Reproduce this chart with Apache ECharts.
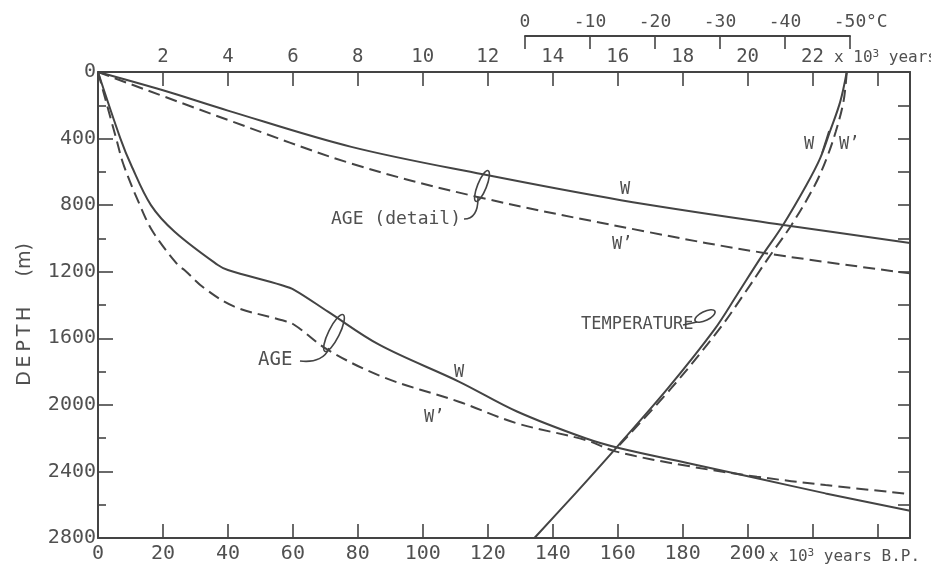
<!DOCTYPE html>
<html><head><meta charset="utf-8">
<script src="https://cdn.jsdelivr.net/npm/echarts@6/dist/echarts.min.js"></script>
<style>html,body{margin:0;padding:0;background:#fff}#c{width:931px;height:573px}</style>
</head><body><div id="c"></div>
<script>
// ---------- data ----------
// Age (detail) curves, top axis in 10^3 years
const detailAgeW  = [0, 2, 4, 7.8, 11.85, 16.1, 21.1, 25];
const detailDepW  = [0, 110, 232, 450, 615, 770, 919, 1027];
const detailAgeW2 = [0, 4, 7.8, 11.65, 16.9, 20.6, 25];
const detailDepW2 = [0, 288, 550, 749, 960, 1090, 1210];
// Age curves, bottom axis in 10^3 years B.P.
const ageW   = [0, 6.9, 10.2, 16.3, 23.6, 36.9, 40, 56.4, 60.5, 70.8, 86.7, 111.1, 129, 150.1, 160.7, 181.8, 202.9, 224, 250];
const depW   = [0, 400, 559, 800, 960, 1160, 1190, 1280, 1310, 1440, 1640, 1860, 2040, 2201, 2261, 2351, 2441, 2532, 2636];
const ageW2  = [0, 5.6, 7.9, 12.9, 16.9, 24.6, 26.6, 32.8, 42, 56.4, 60.5, 70.8, 88, 111.1, 129, 150.1, 159.6, 181.8, 202.9, 224, 250];
const depW2  = [0, 400, 559, 800, 960, 1160, 1190, 1300, 1410, 1490, 1520, 1670, 1835, 1981, 2111, 2211, 2281, 2368, 2432, 2482, 2536];
// Temperature curves (deg C)
const tDepW  = [0, 178, 359, 519, 679, 919, 1120, 1340, 1550, 1900, 2255, 2530, 2800];
const tempW  = [-49.5, -48.5, -46.9, -45.4, -43.3, -39.7, -36.2, -32.6, -29.1, -22, -14.1, -7.8, -1.45];
const tDepW2 = [0, 178, 359, 519, 679, 919, 1120, 1340, 1550, 1900, 2255];
const tempW2 = [-49.5, -49.0, -47.8, -46.4, -44.6, -41.0, -37.4, -33.6, -29.8, -22.5, -14.2];
// tick labels
const bottomLabels = [0, 20, 40, 60, 80, 100, 120, 140, 160, 180, 200];
const topLabels = [2, 4, 6, 8, 10, 12, 14, 16, 18, 20, 22];
const tempLabels = [0, -10, -20, -30, -40, -50];
const depthLabels = [0, 400, 800, 1200, 1600, 2000, 2400, 2800];

// ---------- chart ----------
const INK = '#444', TXT = '#505050', MONO = 'DejaVu Sans Mono', SANS = 'DejaVu Sans';
const pairs = (xs, ys) => xs.map((x, i) => [x, ys[i]]);
const chart = echarts.init(document.getElementById('c'));
const line = (name, data, xi, yi, dashed) => ({
  name, type: 'line', data, xAxisIndex: xi, yAxisIndex: yi, showSymbol: false, smooth: 0.35,
  lineStyle: { color: INK, width: 2, type: dashed ? [12, 6] : 'solid' }, silent: true, z: 3
});
const axLine = { onZero: false, lineStyle: { color: INK, width: 2 } };
const tick = (len) => ({ inside: true, length: len, lineStyle: { color: INK, width: 1.6 } });

chart.setOption({
  animation: false,
  grid: [
    { left: 98, right: 21, top: 72, bottom: 35 },
    { left: 525, right: 81, top: 72, bottom: 35 }
  ],
  xAxis: [
    { gridIndex: 0, type: 'value', position: 'bottom', min: 0, max: 250, interval: 20,
      axisLine: axLine, axisTick: tick(14), splitLine: { show: false },
      axisLabel: { margin: 6, color: TXT, fontSize: 20, fontFamily: MONO,
        formatter: v => bottomLabels.includes(v) ? String(v) : '' } },
    { gridIndex: 0, type: 'value', position: 'top', min: 0, max: 25, interval: 2,
      axisLine: axLine, axisTick: tick(14), splitLine: { show: false },
      axisLabel: { margin: 5, color: TXT, fontSize: 19, fontFamily: MONO,
        formatter: v => topLabels.includes(v) ? String(v) : '' } },
    { gridIndex: 1, type: 'value', position: 'top', offset: 36, min: -50, max: 0, interval: 10, inverse: true,
      axisLine: axLine, axisTick: tick(13), splitLine: { show: false },
      axisLabel: { margin: 5, color: TXT, fontSize: 18, fontFamily: MONO,
        formatter: v => tempLabels.includes(v) ? String(v) : '' } }
  ],
  yAxis: [
    { gridIndex: 0, type: 'value', position: 'left', min: 0, max: 2800, interval: 400, inverse: true,
      axisLine: axLine, axisTick: tick(15), splitLine: { show: false },
      minorTick: { show: true, splitNumber: 2, length: 8, lineStyle: { color: INK, width: 1.6 } },
      axisLabel: { margin: 2, color: TXT, fontSize: 20, fontFamily: MONO,
        formatter: v => depthLabels.includes(v) ? String(v) : '' },
      name: 'D\u2009E\u2009P\u2009T\u2009H     (m)\u2002\u2002', nameLocation: 'middle', nameRotate: 90, nameGap: 63,
      nameTextStyle: { color: TXT, fontSize: 19, fontFamily: SANS } },
    { gridIndex: 0, type: 'value', position: 'right', min: 0, max: 2800, interval: 200, inverse: true,
      axisLine: axLine, axisTick: tick(12), axisLabel: { show: false }, splitLine: { show: false } },
    { gridIndex: 1, type: 'value', min: 0, max: 2800, inverse: true, show: false }
  ],
  series: [
    line('detail W', pairs(detailAgeW, detailDepW), 1, 0, false),
    line("detail W'", pairs(detailAgeW2, detailDepW2), 1, 0, true),
    line('age W', pairs(ageW, depW), 0, 0, false),
    line("age W'", pairs(ageW2, depW2), 0, 0, true),
    line('temp W', pairs(tempW, tDepW), 2, 2, false),
    line("temp W'", pairs(tempW2, tDepW2), 2, 2, true)
  ]
});

// ---------- annotations ----------
const T = (text, x, y, size) => ({ type: 'text', x, y, silent: true,
  style: { text, fill: TXT, font: size + 'px "' + MONO + '"', textVerticalAlign: 'middle' } });
const stroke = { stroke: INK, lineWidth: 1.6, fill: null };
const suffix = (x, y, size, tail) => ({ type: 'text', x, y, silent: true, style: { rich: {
    a: { fontSize: size, fontFamily: MONO, fill: TXT },
    s: { fontSize: Math.round(size * 0.7), fontFamily: MONO, fill: TXT, verticalAlign: 'top', padding: [0, 0, 8, 0] } },
    text: '{a|x 10}{s|3}{a|' + tail + '}', textVerticalAlign: 'middle' } });
chart.setOption({
  graphic: [
    suffix(834, 58, 16, ' years'),
    suffix(769, 557, 16, ' years B.P.'),
    T('°C', 866, 22, 18),
    // AGE (detail)
    T('AGE (detail)', 331, 219, 18),
    { type: 'ellipse', x: 482, y: 186, rotation: -0.38, shape: { cx: 0, cy: 0, rx: 4.5, ry: 16.5 }, style: stroke, silent: true },
    { type: 'bezierCurve', shape: { x1: 464, y1: 219, cpx1: 474, cpy1: 219, cpx2: 478, cpy2: 210, x2: 478, y2: 198 }, style: stroke, silent: true },
    T('W', 620, 190, 17), T('W’', 612, 245, 17),
    // AGE
    T('AGE', 258, 360, 19),
    { type: 'ellipse', x: 334, y: 333, rotation: -0.46, shape: { cx: 0, cy: 0, rx: 5.5, ry: 20.5 }, style: stroke, silent: true },
    { type: 'bezierCurve', shape: { x1: 300, y1: 361, cpx1: 316, cpy1: 363, cpx2: 326, cpy2: 357, x2: 329, y2: 348 }, style: stroke, silent: true },
    T('W', 454, 373, 17), T('W’', 424, 418, 17),
    // TEMPERATURE
    T('TEMPERATURE', 581, 325, 17),
    { type: 'line', shape: { x1: 683, y1: 325, x2: 697, y2: 322 }, style: stroke, silent: true },
    { type: 'ellipse', x: 705, y: 316, rotation: 0.45, shape: { cx: 0, cy: 0, rx: 11, ry: 4.5 }, style: stroke, silent: true },
    T('W', 804, 145, 17), T('W’', 839, 145, 17),
    { type: 'line', shape: { x1: 829, y1: 131, x2: 822, y2: 153 }, style: stroke, silent: true }
  ]
});
</script></body></html>
